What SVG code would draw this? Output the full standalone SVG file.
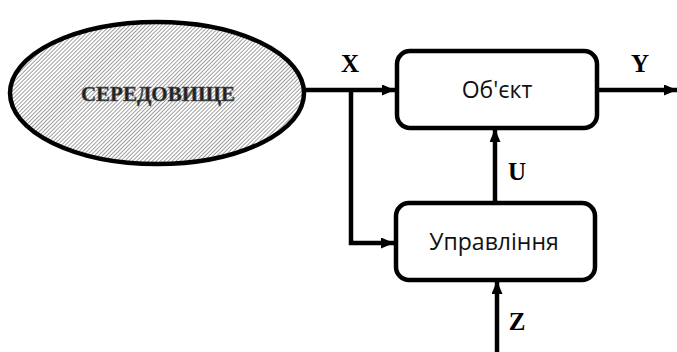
<svg xmlns="http://www.w3.org/2000/svg" width="677" height="352" viewBox="0 0 677 352">
<style>
.box{fill:#fff;stroke:#000;stroke-width:4.5}
.ln{fill:none;stroke:#000;stroke-width:4.5}
.lbl{font-family:"Liberation Serif",serif;font-weight:bold;font-size:25px;fill:#000}
.t{font-family:"Open Sans","Noto Sans",sans-serif;font-size:23px;fill:#111}
</style>
<defs>
<pattern id="hatch" width="2.8" height="2.8" patternUnits="userSpaceOnUse" patternTransform="rotate(45)">
<rect width="2.8" height="2.8" fill="#fff"/>
<line x1="0" y1="0" x2="0" y2="2.8" stroke="#777" stroke-width="1.4"/>
</pattern>
<marker id="arr" viewBox="0 0 13 11" refX="13" refY="5.5" markerWidth="13" markerHeight="11" markerUnits="userSpaceOnUse" orient="auto">
<path d="M0,0 L13,5.5 L0,11 Z" fill="#000"/>
</marker>
</defs>
<g id="connectors">
<path class="ln" d="M304,90 H395" marker-end="url(#arr)"/>
<path class="ln" d="M351,90 V243 H394" marker-end="url(#arr)"/>
<path class="ln" d="M599,90 H677" marker-end="url(#arr)"/>
<path class="ln" d="M495,202 V129" marker-end="url(#arr)"/>
<path class="ln" d="M497,352 V281" marker-end="url(#arr)"/>
</g>
<g id="seredovyshche">
<ellipse cx="157" cy="93" rx="147" ry="71" fill="url(#hatch)" stroke="#000" stroke-width="4.5"/>
<text x="158" y="101" text-anchor="middle" font-family="Liberation Serif,serif" font-weight="bold" font-size="21" fill="#222" stroke="#555" stroke-width="0.6">СЕРЕДОВИЩЕ</text>
</g>
<g id="obiekt">
<rect class="box" x="397" y="51" width="200" height="77" rx="13"/>
<text class="t" x="497" y="98" text-anchor="middle">Об'єкт</text>
</g>
<g id="upravlinnia">
<rect class="box" x="396" y="203" width="199" height="77" rx="13"/>
<text class="t" x="494" y="250" text-anchor="middle">Управління</text>
</g>
<g id="labels">
<text class="lbl" x="350" y="72" text-anchor="middle">X</text>
<text class="lbl" x="640" y="72" text-anchor="middle">Y</text>
<text class="lbl" x="517" y="180" text-anchor="middle">U</text>
<text class="lbl" x="517" y="330" text-anchor="middle">Z</text>
</g>
</svg>
